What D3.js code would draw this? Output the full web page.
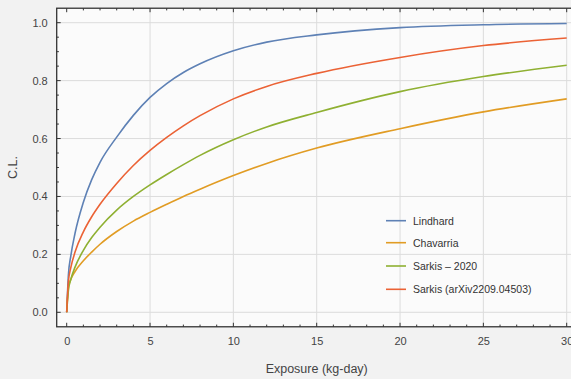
<!DOCTYPE html>
<html>
<head>
<meta charset="utf-8">
<script src="https://cdn.jsdelivr.net/npm/d3@7"></script>
<style>
  html, body { margin: 0; padding: 0; background: #f2f2f2; }
  svg { display: block; font-family: "Liberation Sans", Arial, sans-serif; }
</style>
</head>
<body>
<svg id="chart" width="571" height="379"></svg>
<script>
// ---- data ----
const exposure = [0, 0.1, 0.25, 0.5, 1, 1.5, 2, 3, 4, 5, 6, 7, 8, 10, 12, 15, 20, 25, 30];
const lindhard  = [0, 0.127, 0.196, 0.273, 0.38, 0.458, 0.518, 0.605, 0.68, 0.742, 0.79, 0.828, 0.858, 0.903, 0.933, 0.958, 0.983, 0.993, 0.997];
const chavarria = [0, 0.086, 0.114, 0.141, 0.178, 0.208, 0.235, 0.279, 0.315, 0.345, 0.373, 0.40, 0.425, 0.472, 0.514, 0.567, 0.634, 0.692, 0.737];
const sarkis2020 = [0, 0.075, 0.114, 0.156, 0.214, 0.258, 0.294, 0.353, 0.4, 0.44, 0.476, 0.51, 0.542, 0.596, 0.64, 0.69, 0.762, 0.814, 0.853];
const sarkisArxiv = [0, 0.105, 0.155, 0.208, 0.278, 0.33, 0.373, 0.445, 0.507, 0.559, 0.604, 0.644, 0.679, 0.737, 0.78, 0.825, 0.88, 0.921, 0.947];
const seriesNames = ["Lindhard", "Chavarria", "Sarkis \u2013 2020", "Sarkis (arXiv2209.04503)"];
const seriesColors = ["#5E81B5", "#E19C24", "#8FB032", "#EB6235"];
const xTickValues = [0, 5, 10, 15, 20, 25, 30];
const yTickValues = [0.0, 0.2, 0.4, 0.6, 0.8, 1.0];
const xLabel = "Exposure (kg-day)";
const yLabel = "C.L.";

const seriesValues = [lindhard, chavarria, sarkis2020, sarkisArxiv];
const svg = d3.select("#chart");

const x = d3.scaleLinear().domain([0, 30]).range([66.7, 566.7]);
const y = d3.scaleLinear().domain([0, 1]).range([312.3, 22.7]);
const xMin = -0.6, xMax = 30.6, yMin = -0.05, yMax = 1.05;
const L = x(xMin), R = x(xMax), T = y(yMax), B = y(yMin);

// plot background
svg.append("rect").attr("x", L).attr("y", T).attr("width", R - L).attr("height", B - T).attr("fill", "#fbfbfb");

// grid
const grid = svg.append("g").attr("stroke", "#dcdcdc").attr("stroke-width", 1);
xTickValues.filter(v => v !== 0).forEach(v => {
  grid.append("line").attr("x1", x(v)).attr("x2", x(v)).attr("y1", T).attr("y2", B);
});
yTickValues.forEach(v => {
  grid.append("line").attr("x1", L).attr("x2", R).attr("y1", y(v)).attr("y2", y(v));
});

// frame
const frameColor = "#333";
svg.append("rect").attr("x", L).attr("y", T).attr("width", R - L).attr("height", B - T)
  .attr("fill", "none").attr("stroke", frameColor).attr("stroke-width", 1.3);

// ticks (inward), major and minor
const tk = svg.append("g").attr("stroke", frameColor).attr("stroke-width", 1);
d3.range(0, 31, 1).forEach(v => {
  const len = (v % 5 === 0) ? 4 : 2.2;
  tk.append("line").attr("x1", x(v)).attr("x2", x(v)).attr("y1", B).attr("y2", B - len);
  tk.append("line").attr("x1", x(v)).attr("x2", x(v)).attr("y1", T).attr("y2", T + len);
});
d3.range(0, 21, 1).map(i => i * 0.05).forEach((v, i) => {
  const len = (i % 4 === 0) ? 4 : 2.2;
  tk.append("line").attr("x1", L).attr("x2", L + len).attr("y1", y(v)).attr("y2", y(v));
});

// axes labels via d3 axes (ticks hidden, labels only)
const xAxis = d3.axisBottom(x).tickValues(xTickValues).tickFormat(d3.format("d")).tickSize(0).tickPadding(10);
const gx = svg.append("g").attr("transform", `translate(0,${B})`).call(xAxis);
gx.select(".domain").remove();
gx.selectAll("text").attr("font-size", 11).attr("fill", "#444").attr("font-family", "Liberation Sans, Arial, sans-serif");

const yAxis = d3.axisLeft(y).tickValues(yTickValues).tickFormat(d3.format(".1f")).tickSize(0).tickPadding(9);
const gy = svg.append("g").attr("transform", `translate(${L},0)`).call(yAxis);
gy.select(".domain").remove();
gy.selectAll("text").attr("font-size", 11).attr("fill", "#444").attr("font-family", "Liberation Sans, Arial, sans-serif");

svg.append("text").attr("x", (L + R) / 2).attr("y", 373).attr("text-anchor", "middle")
  .attr("font-size", 12.5).attr("fill", "#444").text(xLabel);
svg.append("text").attr("transform", `translate(17,${(T + B) / 2}) rotate(-90)`).attr("text-anchor", "middle")
  .attr("font-size", 12.5).attr("fill", "#444").text(yLabel);

// curves
svg.append("clipPath").attr("id", "clip").append("rect")
  .attr("x", L).attr("y", T).attr("width", R - L).attr("height", B - T);
const line = d3.line().x(d => x(d[0])).y(d => y(d[1])).curve(d3.curveMonotoneX);
const curves = svg.append("g").attr("clip-path", "url(#clip)");
seriesValues.forEach((vals, i) => {
  curves.append("path").datum(exposure.map((e, j) => [e, vals[j]]))
    .attr("d", line).attr("fill", "none").attr("stroke", seriesColors[i]).attr("stroke-width", 1.6);
});

// legend
const legY = [220.7, 242.7, 266, 289.3];
const leg = svg.append("g");
seriesNames.forEach((n, i) => {
  leg.append("line").attr("x1", 386).attr("x2", 406).attr("y1", legY[i]).attr("y2", legY[i])
    .attr("stroke", seriesColors[i]).attr("stroke-width", 1.6);
  leg.append("text").attr("x", 413).attr("y", legY[i] + 3.8).attr("font-size", 10.5).attr("fill", "#333").text(n);
});
</script>
</body>
</html>
